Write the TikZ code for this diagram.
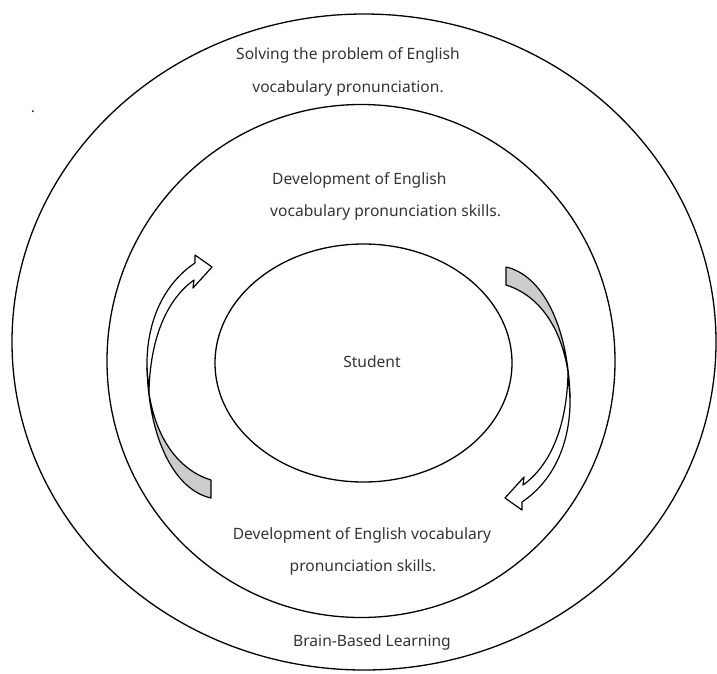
\documentclass[tikz,border=0pt]{standalone}
\usepackage{fontspec}
\setmainfont{Noto Sans}
\usetikzlibrary{shapes.geometric}
\begin{document}
\begin{tikzpicture}[x=1pt,y=-1pt,
  ring/.style={draw, ellipse, line width=1.3pt, inner sep=0pt},
  lbl/.style={text=black!80, font=\fontsize{15.6}{17}\selectfont, inner sep=0pt},
  arrowline/.style={draw, line width=1.2pt, line join=round},
  backface/.style={fill=black!20}]
\useasboundingbox (0,0) rectangle (717,673);
\node[ring, minimum width=704pt, minimum height=656pt] (outer) at (364,342) {};
\node[ring, minimum width=508pt, minimum height=513pt] (middle) at (361,361) {};
\node[ring, minimum width=297pt, minimum height=238pt] (inner) at (363.5,363) {};

% left curved arrow (upward)
\begin{scope}
  \path[arrowline, fill=white] (147,368) .. controls (146,320) and (165,283) .. (195,263)
     -- (195,255) -- (212,267) -- (193,288) -- (194,280)
     .. controls (166,300) and (150,340) .. (149,392) -- cycle;
  \path[arrowline, backface] (211,480) .. controls (172,468) and (148,425) .. (147,368)
     .. controls (149,440) and (175,490) .. (211,498) -- cycle;
\end{scope}
% right curved arrow (downward), 180 degree turn of the left one
\begin{scope}[rotate around={180:(358.5,382.5)}]
  \path[arrowline, fill=white] (147,368) .. controls (146,320) and (165,283) .. (195,263)
     -- (195,255) -- (212,267) -- (193,288) -- (194,280)
     .. controls (166,300) and (150,340) .. (149,392) -- cycle;
  \path[arrowline, backface] (211,480) .. controls (172,468) and (148,425) .. (147,368)
     .. controls (149,440) and (175,490) .. (211,498) -- cycle;
\end{scope}

\node[lbl] (t1) at (348,55) {Solving the problem of English};
\node[lbl] (t2) at (348,88) {vocabulary pronunciation.};
\node[lbl, anchor=west] (t3) at (272,180) {Development of English};
\node[lbl, anchor=west] (t4) at (270,212) {vocabulary pronunciation skills.};
\node[lbl] (t5) at (372,362) {Student};
\node[lbl] (t6) at (362,535) {Development of English vocabulary};
\node[lbl] (t7) at (363,567) {pronunciation skills.};
\node[lbl] (t8) at (372,642) {Brain-Based Learning};
\node[lbl, anchor=base] (dot) at (33,112) {.};
\end{tikzpicture}
\end{document}
